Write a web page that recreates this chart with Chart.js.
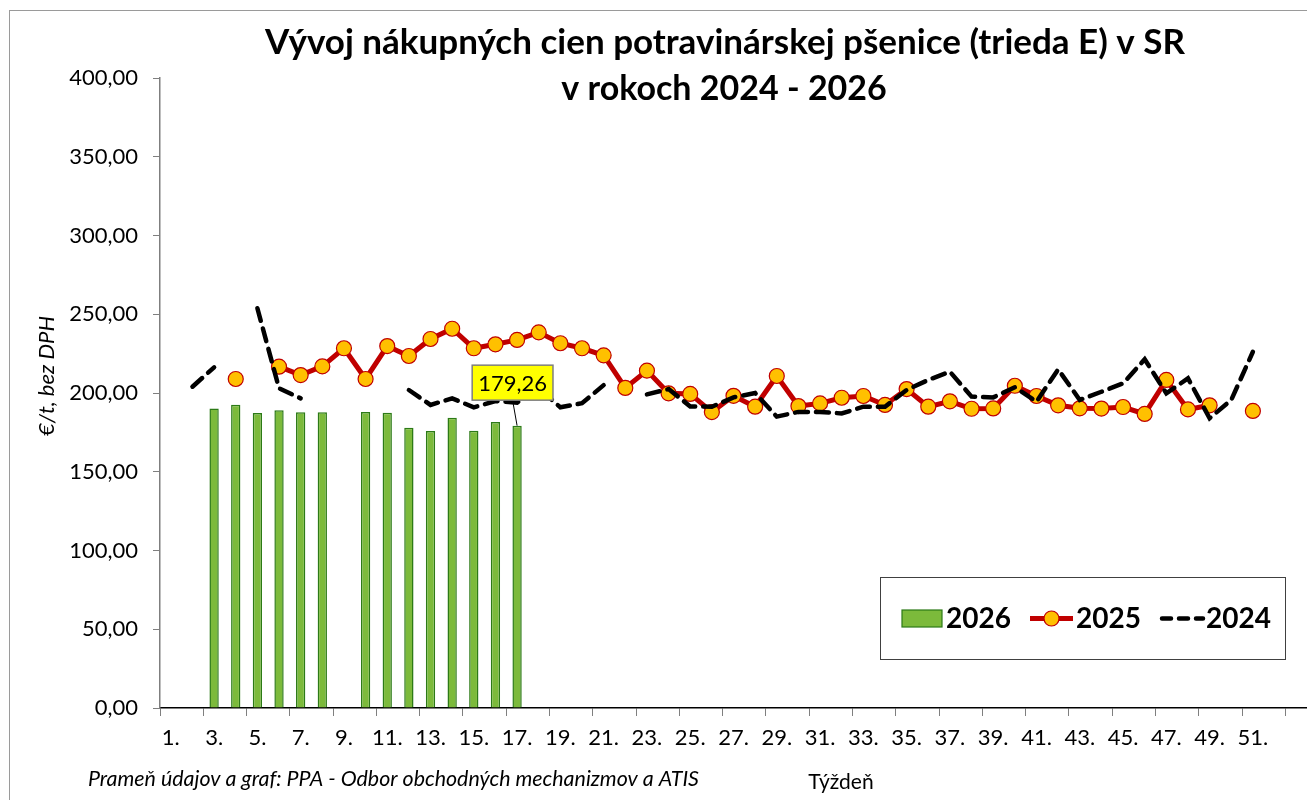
<!DOCTYPE html>
<html><head><meta charset="utf-8">
<script src="https://cdn.jsdelivr.net/npm/chart.js@4.4.1/dist/chart.umd.min.js"></script>
<style>html,body{margin:0;padding:0;background:#fff;overflow:hidden}#wrap{position:relative;width:1307px;height:800px}</style>
</head><body><div id="wrap"><canvas id="c" width="1307" height="800" style="width:1307px;height:800px"></canvas></div>
<script>
// ---- data ----
const weeks = ['1.','2.','3.','4.','5.','6.','7.','8.','9.','10.','11.','12.','13.','14.','15.','16.','17.','18.','19.','20.',
  '21.','22.','23.','24.','25.','26.','27.','28.','29.','30.','31.','32.','33.','34.','35.','36.','37.','38.','39.','40.',
  '41.','42.','43.','44.','45.','46.','47.','48.','49.','50.','51.','52.','53.'];
const yTicks = [0,50,100,150,200,250,300,350,400];
const v2026 = [null,null,190.2,192.6,187.3,189.1,187.8,187.8,null,188.0,187.4,177.9,175.9,184.3,176.1,181.6,179.26];
const v2025 = [null,null,null,208.9,null,216.7,211.4,216.9,228.4,208.9,229.8,223.5,234.3,240.8,228.4,230.9,233.7,238.5,231.6,228.4,
  223.9,203.2,214.2,199.8,199.4,187.9,198.2,191.3,210.8,191.7,193.4,197.0,198.1,192.4,202.5,191.3,194.7,190.0,190.2,204.6,
  198.1,192.2,190.3,190.1,191.1,186.7,208.3,189.6,192.2,null,188.6];
const v2024 = [null,204.0,216.3,null,253.8,203.0,196.6,null,null,null,null,201.9,192.4,196.6,190.9,194.9,193.9,203.0,190.9,193.5,
  205.0,null,199.1,202.5,191.5,191.3,197.2,200.0,185.0,188.0,188.0,187.0,191.3,191.3,201.9,208.3,213.5,197.7,197.2,203.6,
  194.5,215.0,195.6,200.8,206.1,221.4,199.8,209.3,184.0,195.6,226.2];
const seriesNames = ['2026','2025','2024'];
const titleLines = ['Vývoj nákupných cien potravinárskej pšenice (trieda E) v SR','v rokoch 2024 - 2026'];
const yTitle = '€/t, bez DPH';
const xTitle = 'Týždeň';
const sourceText = 'Prameň údajov a graf: PPA - Odbor obchodných mechanizmov a ATIS';

const FONT = 'Lato, "Open Sans", sans-serif';
const GREEN = '#7cba3b', GREEN_D = '#2c7a16', RED = '#c00000', YEL = '#ffc000';
const fmt = v => v.toFixed(2).replace('.', ',');

const decor = {
  id: 'decor',
  beforeDraw(chart) {
    const c = chart.ctx;
    c.save();
    c.fillStyle = '#fff'; c.fillRect(0, 0, chart.width, chart.height);
    c.strokeStyle = '#9a9a9a'; c.lineWidth = 1;
    c.strokeRect(9.5, 10.5, chart.width + 20, chart.height + 20);
    c.restore();
  },
  afterDatasetsDraw(chart) {
    const c = chart.ctx;
    const meta = chart.getDatasetMeta(0);
    const idx = v2026.length - 1;
    const el = meta.data[idx];
    if (!el) return;
    const txt = fmt(v2026[idx]);
    c.save();
    c.font = '22px ' + FONT;
    const tw = c.measureText(txt).width;
    const bw = tw + 12, bh = 35;
    const cx = el.x - 4.5, cy = el.y - 43;
    c.strokeStyle = '#000'; c.lineWidth = 1;
    c.beginPath(); c.moveTo(cx, cy + bh / 2); c.lineTo(el.x, el.y); c.stroke();
    c.fillStyle = '#ffff00';
    c.fillRect(cx - bw / 2, cy - bh / 2, bw, bh);
    c.strokeStyle = '#7f7f7f'; c.lineWidth = 1.5;
    c.strokeRect(cx - bw / 2, cy - bh / 2, bw, bh);
    c.fillStyle = '#000'; c.textAlign = 'center'; c.textBaseline = 'middle';
    c.fillText(txt, cx, cy + 1);
    c.restore();
  },
  afterDraw(chart) {
    const c = chart.ctx;
    c.save();
    c.fillStyle = '#000';
    c.textAlign = 'center'; c.textBaseline = 'middle';
    c.font = 'bold 35px ' + FONT;
    c.fillText(titleLines[0], 725, 43);
    c.font = 'bold 34px ' + FONT;
    c.fillText(titleLines[1], 724, 89);
    c.save();
    c.translate(47, 376); c.rotate(-Math.PI / 2);
    c.font = 'italic 22px ' + FONT;
    c.fillText(yTitle, 0, 0);
    c.restore();
    c.font = '21px ' + FONT;
    c.fillText(xTitle, 841, 782);
    c.textAlign = 'left';
    c.font = 'italic 21.4px ' + FONT;
    c.fillText(sourceText, 88, 779);
    // legend
    const L = 880.5, T = 577.5, W = 405, H = 82;
    c.fillStyle = '#fff'; c.fillRect(L, T, W, H);
    c.strokeStyle = '#404040'; c.lineWidth = 1; c.strokeRect(L, T, W, H);
    const ly = 619;
    c.font = 'bold 28px ' + FONT;
    c.textBaseline = 'middle'; c.textAlign = 'left';
    c.fillStyle = GREEN; c.fillRect(902, 610, 40, 17);
    c.strokeStyle = GREEN_D; c.lineWidth = 1.2; c.strokeRect(902, 610, 40, 17);
    c.fillStyle = '#000'; c.fillText(seriesNames[0], 946, ly);
    c.strokeStyle = RED; c.lineWidth = 5; c.lineCap = 'butt';
    c.beginPath(); c.moveTo(1030, 618.5); c.lineTo(1073, 618.5); c.stroke();
    c.beginPath(); c.arc(1051.5, 618.5, 7.5, 0, Math.PI * 2);
    c.fillStyle = YEL; c.fill(); c.lineWidth = 1.2; c.stroke();
    c.fillStyle = '#000'; c.fillText(seriesNames[1], 1076, ly);
    c.strokeStyle = '#000'; c.lineWidth = 4.5; c.lineCap = 'round';
    c.setLineDash([9, 8]);
    c.beginPath(); c.moveTo(1162, 618.5); c.lineTo(1203, 618.5); c.stroke();
    c.setLineDash([]);
    c.fillText(seriesNames[2], 1206, ly);
    c.restore();
  }
};

new Chart(document.getElementById('c'), {
  data: {
    labels: weeks,
    datasets: [
      { type: 'bar', label: seriesNames[0], data: v2026, backgroundColor: GREEN, borderColor: GREEN_D,
        borderWidth: 1.5, barPercentage: 0.43, categoryPercentage: 1, order: 3 },
      { type: 'line', label: seriesNames[1], data: v2025, borderColor: RED, borderWidth: 5, spanGaps: false,
        pointRadius: 7.5, pointHoverRadius: 7.5, pointBackgroundColor: YEL, pointBorderColor: RED, pointBorderWidth: 1.2,
        tension: 0, order: 2 },
      { type: 'line', label: seriesNames[2], data: v2024, borderColor: '#000', borderWidth: 4.5, borderDash: [13, 8],
        borderCapStyle: 'round', pointRadius: 0, spanGaps: false, tension: 0, order: 1 }
    ]
  },
  options: {
    responsive: false, animation: false, devicePixelRatio: 1,
    layout: { autoPadding: false, padding: { top: 78, left: 0, right: 0, bottom: 0 } },
    plugins: { legend: { display: false }, tooltip: { enabled: false }, title: { display: false } },
    scales: {
      x: {
        offset: true,
        grid: { offset: true, drawOnChartArea: false, tickLength: 8, lineWidth: 1,
          color: ctx => (ctx.index % 2 === 0 ? '#7f7f7f' : 'rgba(0,0,0,0)') },
        border: { color: '#000', width: 1.5 },
        ticks: { autoSkip: false, maxRotation: 0, minRotation: 0, padding: 9, color: '#000',
          font: { family: FONT, size: 22 },
          callback: (v, i) => (i % 2 === 0 && i < 51 ? weeks[i] : '') },
        afterFit: s => { s.height = 92; s.paddingLeft = 0; s.paddingRight = 0; }
      },
      y: {
        min: 0, max: 400,
        afterBuildTicks: s => { s.ticks = yTicks.map(v => ({ value: v })); },
        grid: { drawOnChartArea: false, tickLength: 7, color: '#7f7f7f' },
        border: { color: '#7f7f7f', width: 1.5 },
        ticks: { padding: 15, color: '#000', font: { family: FONT, size: 22 }, callback: v => fmt(v) },
        afterFit: s => { s.width = 160; s.paddingTop = 0; s.paddingBottom = 0; }
      }
    }
  },
  plugins: [decor]
});
</script></body></html>
